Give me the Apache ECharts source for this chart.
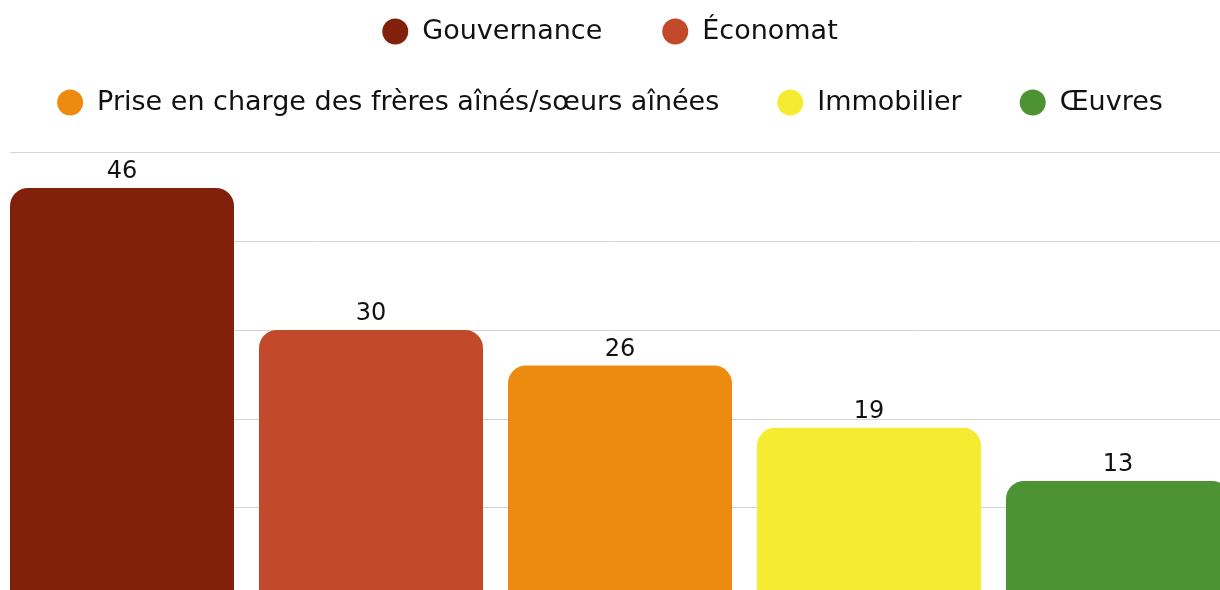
<!DOCTYPE html>
<html>
<head>
<meta charset="utf-8">
<script src="https://cdn.jsdelivr.net/npm/echarts@6/dist/echarts.min.js"></script>
<style>
  html, body { margin: 0; padding: 0; background: #ffffff; }
  #main { width: 1220px; height: 590px; }
</style>
</head>
<body>
<div id="main"></div>
<script>
// donnees
var names = ['Gouvernance', 'Économat', 'Prise en charge des frères aînés/sœurs aînées', 'Immobilier', 'Œuvres'];
var values = [46, 30, 26, 19, 13];
var colors = ['#82210b', '#c2492a', '#ed8b10', '#f5ec32', '#4d9233'];
var categories = [''];

var chart = echarts.init(document.getElementById('main'));

function buildSeries() {
	var series = [];
	for (var i = 0; i < names.length; i++) {
		series.push({
			name: names[i],
			type: 'bar',
			data: [values[i]],
			barWidth: 224,
			barGap: '11.16%',
			itemStyle: { color: colors[i], borderRadius: [18, 18, 0, 0] },
			label: {
				show: true,
				position: 'top',
				distance: 4,
				color: '#111111',
				fontSize: 24,
				fontFamily: 'DejaVu Sans'
			}
		});
	}
	return series;
}

var legendText = {
	fontSize: 27,
	fontFamily: 'DejaVu Sans',
	color: '#111111',
	lineHeight: 26,
	padding: [0, 0, 0, 9]
};

var option = {
	backgroundColor: '#ffffff',
	animation: false,
	legend: [{
		data: names.slice(0, 2),
		left: 'center',
		top: 13,
		icon: 'circle',
		itemWidth: 26,
		itemHeight: 26,
		itemGap: 60,
		textStyle: legendText
	}, {
		data: names.slice(2),
		left: 'center',
		top: 84,
		icon: 'circle',
		itemWidth: 26,
		itemHeight: 26,
		itemGap: 58,
		textStyle: legendText
	}],
	grid: {
		left: 10, top: 152.5, width: 1220, height: 443.75,
		containLabel: false, outerBoundsMode: 'none'
	},
	xAxis: {
		type: 'category',
		data: categories,
		axisLine: { show: false },
		axisTick: { show: false },
		axisLabel: { show: false }
	},
	yAxis: {
		type: 'value',
		min: 0,
		max: 50,
		interval: 10,
		axisLine: { show: false },
		axisTick: { show: false },
		axisLabel: { show: false },
		splitLine: { lineStyle: { color: '#d4d4d4', width: 1 } }
	},
	series: buildSeries()
};

chart.setOption(option);
</script>
</body>
</html>
